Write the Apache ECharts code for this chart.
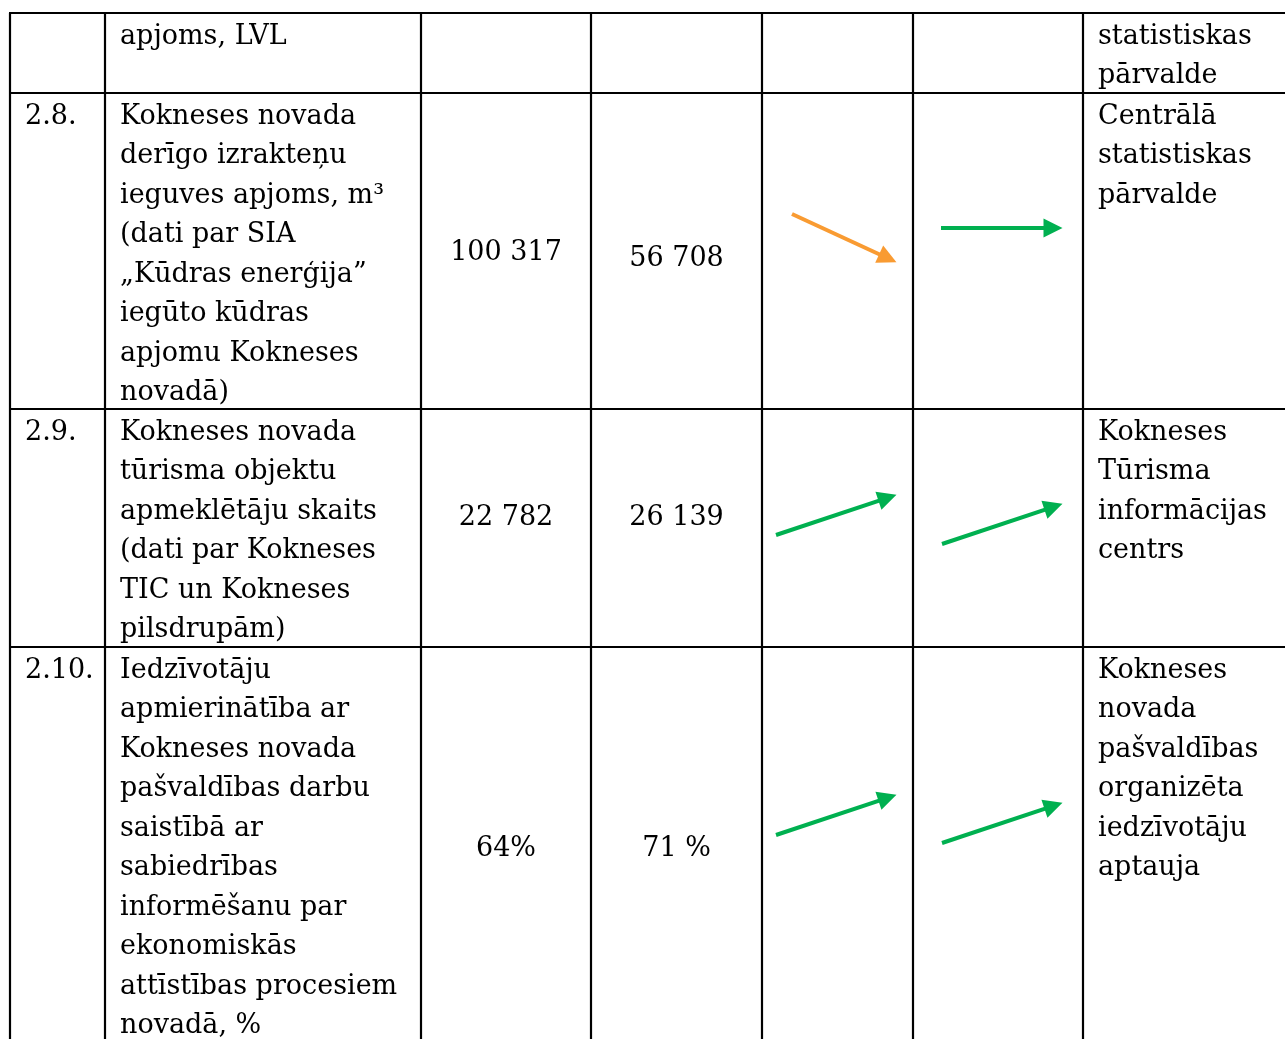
<!DOCTYPE html>
<html style='height: 100%'>
<head>
    <meta charset='utf-8'>
</head>
<body style='height: 100%; margin: 0; background: #fff'>
    <div id='container' style='height: 100%'></div>
    <script type='text/javascript' src='https://cdn.jsdelivr.net/npm/echarts@6/dist/echarts.min.js'></script>
    <script type="text/javascript">
// table content
var rowIds = ['', '2.8.', '2.9.', '2.10.'];
var indicators = [
    ['apjoms, LVL'],
    ['Kokneses novada', 'derīgo izrakteņu', 'ieguves apjoms, m³', '(dati par SIA', '„Kūdras enerģija”', 'iegūto kūdras', 'apjomu Kokneses', 'novadā)'],
    ['Kokneses novada', 'tūrisma objektu', 'apmeklētāju skaits', '(dati par Kokneses', 'TIC un Kokneses', 'pilsdrupām)'],
    ['Iedzīvotāju', 'apmierinātība ar', 'Kokneses novada', 'pašvaldības darbu', 'saistībā ar', 'sabiedrības', 'informēšanu par', 'ekonomiskās', 'attīstības procesiem', 'novadā, %']
];
var valuesA = ['', '100 317', '22 782', '64%'];
var valuesB = ['', '56 708', '26 139', '71 %'];
var trendA = [null, 'down', 'up', 'up'];
var trendB = [null, 'flat', 'up', 'up'];
var sources = [
    ['statistiskas', 'pārvalde'],
    ['Centrālā', 'statistiskas', 'pārvalde'],
    ['Kokneses', 'Tūrisma', 'informācijas', 'centrs'],
    ['Kokneses', 'novada', 'pašvaldības', 'organizēta', 'iedzīvotāju', 'aptauja']
];

(function () {
// layout (pixels)
var W = 1285, H = 1039;
var colX = [10, 105, 421, 591, 762, 913, 1083];
var rowY = [13, 93, 409, 647];
var lineH = 39.5;
var firstLine = 23.5;
var valueYA = [0, 253, 518, 849];
var valueYB = [0, 259, 518, 849];
var arrowMidA = [0, 238, 515, 815];
var arrowMidB = [0, 228, 524, 823];
var FONT = '27px "DejaVu Serif"';
var trendColor = { down: '#F99B32', up: '#00B050', flat: '#00B050' };

var dom = document.getElementById("container");
var myChart = echarts.init(dom);

// table rules
var rules = [];
rowY.forEach(function (y) {
    rules.push({ coords: [[colX[0] - 1, y], [W, y]] });
});
colX.forEach(function (x) {
    rules.push({ coords: [[x, rowY[0]], [x, H]] });
});

// trend arrows
function arrow(trend, left, right, mid) {
    var x1 = left, x2 = right, dy = 0;
    if (trend === 'down') dy = 24;
    if (trend === 'up') dy = -20;
    var y1 = mid - dy, y2 = mid + dy;
    // pull the end back so the triangle tip sits at (x2, y2)
    var len = Math.sqrt((x2 - x1) * (x2 - x1) + (y2 - y1) * (y2 - y1));
    var k = 9 / len;
    return {
        coords: [[x1, y1], [x2 - (x2 - x1) * k, y2 - (y2 - y1) * k]],
        lineStyle: { color: trendColor[trend] }
    };
}
var arrows = [];
for (var i = 1; i < rowIds.length; i++) {
    if (trendA[i] === 'down') arrows.push(arrow(trendA[i], colX[4] + 30, colX[5] - 17, arrowMidA[i]));
    else arrows.push(arrow(trendA[i], colX[4] + 14, colX[5] - 17, arrowMidA[i]));
    if (trendB[i] === 'flat') arrows.push(arrow(trendB[i], colX[5] + 28, colX[6] - 21, arrowMidB[i]));
    else arrows.push(arrow(trendB[i], colX[5] + 29, colX[6] - 21, arrowMidB[i]));
}

// texts
var texts = [];
function addText(str, x, y, align) {
    texts.push({
        type: 'text',
        x: x, y: y,
        style: { text: str, font: FONT, fill: '#000', align: align || 'left', verticalAlign: 'middle' }
    });
}
for (var r = 0; r < rowIds.length; r++) {
    var rowTop = rowY[r] + firstLine;
    if (rowIds[r]) addText(rowIds[r], colX[0] + 15, rowTop);
    indicators[r].forEach(function (s, j) { addText(s, colX[1] + 15, rowTop + j * lineH); });
    sources[r].forEach(function (s, j) { addText(s, colX[6] + 15, rowTop + j * lineH); });
    if (valuesA[r]) addText(valuesA[r], (colX[2] + colX[3]) / 2, valueYA[r], 'center');
    if (valuesB[r]) addText(valuesB[r], (colX[3] + colX[4]) / 2, valueYB[r], 'center');
}

var option = {
    backgroundColor: '#fff',
    animation: false,
    grid: { left: 0, right: 0, top: 0, bottom: 0 },
    xAxis: { type: 'value', min: 0, max: W, show: false },
    yAxis: { type: 'value', min: 0, max: H, inverse: true, show: false },
    graphic: texts,
    series: [
        {
            name: 'rules',
            type: 'lines',
            coordinateSystem: 'cartesian2d',
            silent: true,
            symbol: 'none',
            lineStyle: { color: '#000', width: 2.2, opacity: 1 },
            data: rules
        },
        {
            name: 'trend',
            type: 'lines',
            coordinateSystem: 'cartesian2d',
            silent: true,
            symbol: ['none', 'triangle'],
            symbolSize: 19,
            lineStyle: { width: 4, opacity: 1 },
            data: arrows
        }
    ]
};
myChart.setOption(option, true);
})();
    </script>
</body>
</html>
